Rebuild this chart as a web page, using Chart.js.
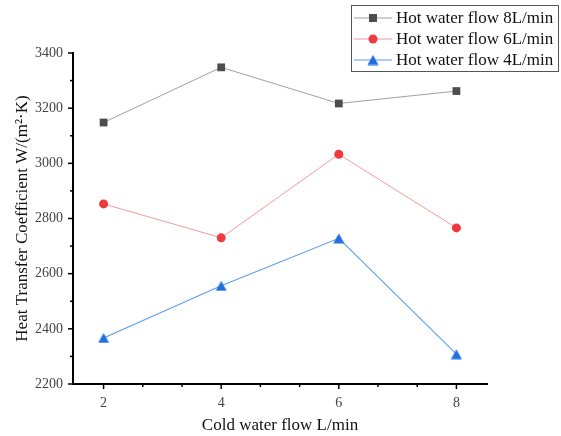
<!DOCTYPE html>
<html lang="en">
<head>
    <meta charset="UTF-8">
    <title>Heat Transfer Coefficient</title>
    <script src="https://cdn.jsdelivr.net/npm/chart.js"></script>
    <style>
        html, body { margin: 0; padding: 0; background: #fff; }
        #wrap { width: 561px; height: 436px; }
    </style>
</head>
<body>
    <div id="wrap"><canvas id="myChart" width="561" height="436"></canvas></div>
    <script>
        // data
        var coldFlow = [2, 4, 6, 8];
        var hot8 = [3148, 3348, 3217, 3262];
        var hot6 = [2853, 2730, 3033, 2766];
        var hot4 = [2367, 2556, 2728, 2308];
        var seriesNames = ['Hot water flow 8L/min', 'Hot water flow 6L/min', 'Hot water flow 4L/min'];
        var xMajorTicks = [2, 4, 6, 8];
        var yMajorTicks = [2200, 2400, 2600, 2800, 3000, 3200, 3400];

        var serif = "Liberation Serif";

        function toPoints(ys) {
            return coldFlow.map(function (x, i) { return { x: x, y: ys[i] }; });
        }

        // triangle marker like the Origin one
        var tri = document.createElement('canvas');
        tri.width = 12; tri.height = 11;
        (function () {
            var c = tri.getContext('2d');
            c.fillStyle = '#1f6fe0';
            c.beginPath();
            c.moveTo(6, 0.5);
            c.lineTo(11.5, 10.5);
            c.lineTo(0.5, 10.5);
            c.closePath();
            c.fill();
        })();

        // minor ticks + legend box, drawn after the chart
        var extras = {
            id: 'extras',
            afterDraw: function (chart) {
                var ctx = chart.ctx;
                var xs = chart.scales.x, ys = chart.scales.y;
                var area = chart.chartArea;
                ctx.save();
                ctx.strokeStyle = '#000';
                ctx.lineWidth = 1.5;
                // x ticks, majors plus thirds between them
                for (var v = 2; v <= 8.01; v += 2 / 3) {
                    var isMajor = Math.abs(v - Math.round(v / 2) * 2) < 0.01;
                    var px = xs.getPixelForValue(v);
                    ctx.beginPath();
                    ctx.moveTo(px, area.bottom);
                    ctx.lineTo(px, area.bottom + (isMajor ? 5 : 3));
                    ctx.stroke();
                }
                // y ticks
                for (var y = 2200; y <= 3400; y += 100) {
                    var py = ys.getPixelForValue(y);
                    ctx.beginPath();
                    ctx.moveTo(area.left, py);
                    ctx.lineTo(area.left - (y % 200 === 0 ? 5 : 3), py);
                    ctx.stroke();
                }
                // legend box
                var bx = 351, by = 5, bw = 207, bh = 66;
                ctx.lineWidth = 1;
                ctx.strokeStyle = '#555';
                ctx.fillStyle = '#fff';
                ctx.fillRect(bx, by, bw, bh);
                ctx.strokeRect(bx + 0.5, by + 0.5, bw, bh);
                ctx.font = '17px "' + serif + '"';
                ctx.textBaseline = 'middle';
                chart.data.datasets.forEach(function (ds, i) {
                    var ly = by + 13 + i * 21;
                    ctx.strokeStyle = ds.borderColor;
                    ctx.lineWidth = 1;
                    ctx.beginPath();
                    ctx.moveTo(bx + 3, ly);
                    ctx.lineTo(bx + 41, ly);
                    ctx.stroke();
                    ctx.fillStyle = ds.pointBackgroundColor;
                    if (ds.pointStyle === 'rect') {
                        ctx.fillRect(bx + 18, ly - 4, 8, 8);
                    } else if (ds.pointStyle === 'circle') {
                        ctx.beginPath();
                        ctx.arc(bx + 22, ly, 4.5, 0, Math.PI * 2);
                        ctx.fill();
                    } else {
                        ctx.drawImage(tri, bx + 16, ly - 5.5);
                    }
                    ctx.fillStyle = '#111';
                    ctx.fillText(seriesNames[i], bx + 45, ly + 1);
                });
                ctx.restore();
            }
        };

        var ctx = document.getElementById('myChart').getContext('2d');
        var myChart = new Chart(ctx, {
            type: 'line',
            data: {
                datasets: [{
                    label: seriesNames[0],
                    data: toPoints(hot8),
                    borderColor: '#a0a0a0',
                    borderWidth: 1,
                    pointStyle: 'rect',
                    pointRadius: 5.5,
                    pointBackgroundColor: '#4d4d4d',
                    pointBorderColor: '#4d4d4d',
                    pointBorderWidth: 0
                }, {
                    label: seriesNames[1],
                    data: toPoints(hot6),
                    borderColor: '#f49a9a',
                    borderWidth: 1,
                    pointStyle: 'circle',
                    pointRadius: 4.5,
                    pointBackgroundColor: '#ee3a3f',
                    pointBorderColor: '#ee3a3f',
                    pointBorderWidth: 0
                }, {
                    label: seriesNames[2],
                    data: toPoints(hot4),
                    borderColor: '#5c9cec',
                    borderWidth: 1.1,
                    pointStyle: tri,
                    pointBackgroundColor: '#1f6fe0',
                    pointBorderColor: '#1f6fe0'
                }]
            },
            options: {
                responsive: false,
                animation: false,
                events: [],
                layout: { padding: { top: 53, right: 74, left: 12, bottom: 0 } },
                plugins: {
                    legend: { display: false },
                    tooltip: { enabled: false }
                },
                scales: {
                    x: {
                        type: 'linear',
                        min: 1.48,
                        max: 8.52,
                        afterBuildTicks: function (scale) {
                            scale.ticks = xMajorTicks.map(function (v) { return { value: v }; });
                        },
                        afterFit: function (scale) { scale.height = 52; },
                        grid: { display: false, drawTicks: false },
                        border: { display: true, color: '#000', width: 2 },
                        ticks: {
                            padding: 11,
                            color: '#444',
                            font: { family: serif, size: 14 },
                            callback: function (v) { return String(v); }
                        },
                        title: {
                            display: true,
                            text: 'Cold water flow L/min',
                            color: '#111',
                            font: { family: serif, size: 17 },
                            padding: { top: 3, bottom: 0 }
                        }
                    },
                    y: {
                        min: 2200,
                        max: 3400,
                        afterBuildTicks: function (scale) {
                            scale.ticks = yMajorTicks.map(function (v) { return { value: v }; });
                        },
                        afterFit: function (scale) { scale.width = 61; },
                        grid: { display: false, drawTicks: false },
                        border: { display: true, color: '#000', width: 2 },
                        ticks: {
                            padding: 10,
                            color: '#444',
                            font: { family: serif, size: 14 },
                            callback: function (v) { return String(v); }
                        },
                        title: {
                            display: true,
                            text: 'Heat Transfer Coefficient W/(m\u00B2\u00B7K)',
                            color: '#111',
                            font: { family: serif, size: 17 },
                            padding: { top: 0, bottom: 0 }
                        }
                    }
                }
            },
            plugins: [extras]
        });
    </script>
</body>
</html>
